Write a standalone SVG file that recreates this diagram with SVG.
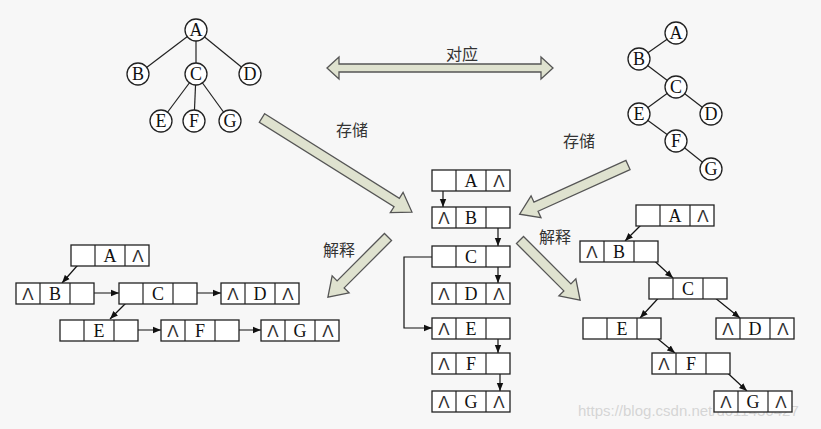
<svg xmlns="http://www.w3.org/2000/svg" xmlns:xlink="http://www.w3.org/1999/xlink" width="821" height="429" viewBox="0 0 821 429">
<style>
.c{fill:#fff;stroke:#222;stroke-width:1.3}
.t{font-family:"Liberation Serif",serif;font-size:18px;text-anchor:middle;fill:#111}
.n{font-family:"Liberation Sans",sans-serif;font-size:17px;text-anchor:middle;fill:#333}
.l{stroke:#222;stroke-width:1.2;fill:none}
.a{stroke:#111;stroke-width:1.2;fill:none;marker-end:url(#m)}
.b{fill:#dfe2cf;stroke:#555;stroke-width:1.3}
.cn{font-family:"Noto Sans CJK SC",sans-serif;font-size:16px;fill:#333;text-anchor:middle}
</style>
<defs>
<marker id="m" viewBox="0 0 10 10" refX="10" refY="5" markerWidth="8" markerHeight="8" orient="auto" markerUnits="userSpaceOnUse"><path d="M0,1 L10,5 L0,9 z" fill="#111"/></marker>
<g id="box"><rect class="c" x="0" y="0" width="78" height="21"/><line class="l" x1="24" y1="0" x2="24" y2="21"/><line class="l" x1="54" y1="0" x2="54" y2="21"/></g>
</defs>
<rect width="821" height="429" fill="#f7f7f7"/>
<text x="578" y="416" font-family="Liberation Sans,sans-serif" font-size="15" fill="#ccc" fill-opacity="0.8">https://blog.csdn.net/u011436427</text>
<g id="connectors">
<g class="l">
<line x1="196" y1="30" x2="138" y2="74"/><line x1="196" y1="30" x2="196" y2="74"/><line x1="196" y1="30" x2="250" y2="74"/>
<line x1="196" y1="74" x2="161" y2="121"/><line x1="196" y1="74" x2="194" y2="121"/><line x1="196" y1="74" x2="230" y2="121"/>
<line x1="676" y1="33" x2="639" y2="59"/><line x1="639" y1="59" x2="676" y2="87"/><line x1="676" y1="87" x2="639" y2="114"/><line x1="676" y1="87" x2="711" y2="114"/><line x1="639" y1="114" x2="676" y2="141"/><line x1="676" y1="141" x2="711" y2="169"/>
</g>
<line class="a" x1="443" y1="177" x2="443" y2="207"/>
<line class="a" x1="498" y1="216" x2="498" y2="246"/>
<line class="a" x1="498" y1="255" x2="498" y2="283"/>
<polyline class="a" points="445,257 404,257 404,328 432,328"/>
<line class="a" x1="498" y1="328" x2="498" y2="353"/>
<line class="a" x1="500" y1="364" x2="500" y2="391"/>
<line class="a" x1="84" y1="258" x2="62" y2="283"/>
<line class="a" x1="82" y1="293" x2="119" y2="293"/>
<line class="a" x1="185" y1="293" x2="221" y2="293"/>
<line class="a" x1="134" y1="295" x2="110" y2="319"/>
<line class="a" x1="128" y1="330" x2="161" y2="330"/>
<line class="a" x1="228" y1="330" x2="261" y2="330"/>
<line class="a" x1="648" y1="218" x2="625" y2="241"/>
<line class="a" x1="647" y1="254" x2="673" y2="278"/>
<line class="a" x1="664" y1="292" x2="640" y2="318"/>
<line class="a" x1="714" y1="297" x2="740" y2="318"/>
<line class="a" x1="647" y1="330" x2="675" y2="353"/>
<line class="a" x1="720" y1="366" x2="747" y2="391"/>
<polygon class="b" points="327,68 339,57 339,64 541,64 541,57 553,68 541,79 541,72 339,72 339,79"/>
<polygon class="b" transform="translate(262,118) rotate(32.1)" points="0,-5 159,-5 159,-12 177,0 159,12 159,5 0,5"/>
<polygon class="b" transform="translate(628,165) rotate(155.6)" points="0,-5 101,-5 101,-12 119,0 101,12 101,5 0,5"/>
<polygon class="b" transform="translate(388,237) rotate(135)" points="0,-5 67,-5 67,-12 85,0 67,12 67,5 0,5"/>
<polygon class="b" transform="translate(520,240) rotate(45)" points="0,-5 67,-5 67,-12 85,0 67,12 67,5 0,5"/>
</g>
<g id="labels">
<text class="cn" x="462" y="60">对应</text>
<text class="cn" x="352" y="136">存储</text>
<text class="cn" x="579" y="147">存储</text>
<text class="cn" x="339" y="256">解释</text>
<text class="cn" x="555" y="243">解释</text>
</g>
<g id="treeL">
<g id="tA"><circle class="c" cx="196" cy="30" r="11"/><text class="t" x="196" y="36">A</text></g>
<g id="tB"><circle class="c" cx="138" cy="74" r="11"/><text class="t" x="138" y="80">B</text></g>
<g id="tC"><circle class="c" cx="196" cy="74" r="11"/><text class="t" x="196" y="80">C</text></g>
<g id="tD"><circle class="c" cx="250" cy="74" r="11"/><text class="t" x="250" y="80">D</text></g>
<g id="tE"><circle class="c" cx="161" cy="121" r="11"/><text class="t" x="161" y="127">E</text></g>
<g id="tF"><circle class="c" cx="194" cy="121" r="11"/><text class="t" x="194" y="127">F</text></g>
<g id="tG"><circle class="c" cx="230" cy="121" r="11"/><text class="t" x="230" y="127">G</text></g>
</g>
<g id="treeR">
<g id="rA"><circle class="c" cx="676" cy="33" r="11"/><text class="t" x="676" y="39">A</text></g>
<g id="rB"><circle class="c" cx="639" cy="59" r="11"/><text class="t" x="639" y="65">B</text></g>
<g id="rC"><circle class="c" cx="676" cy="87" r="11"/><text class="t" x="676" y="93">C</text></g>
<g id="rE"><circle class="c" cx="639" cy="114" r="11"/><text class="t" x="639" y="120">E</text></g>
<g id="rD"><circle class="c" cx="711" cy="114" r="11"/><text class="t" x="711" y="120">D</text></g>
<g id="rF"><circle class="c" cx="676" cy="141" r="11"/><text class="t" x="676" y="147">F</text></g>
<g id="rG"><circle class="c" cx="711" cy="169" r="11"/><text class="t" x="711" y="175">G</text></g>
</g>
<g id="cA"><use href="#box" x="432" y="170"/><text class="t" x="471" y="187">A</text><text class="n" x="499" y="187">Λ</text></g>
<g id="cB"><use href="#box" x="432" y="207"/><text class="n" x="444" y="224">Λ</text><text class="t" x="471" y="224">B</text></g>
<g id="cC"><use href="#box" x="432" y="246"/><text class="t" x="471" y="263">C</text></g>
<g id="cD"><use href="#box" x="432" y="283"/><text class="n" x="444" y="300">Λ</text><text class="t" x="471" y="300">D</text><text class="n" x="499" y="300">Λ</text></g>
<g id="cE"><use href="#box" x="432" y="318"/><text class="n" x="444" y="335">Λ</text><text class="t" x="471" y="335">E</text></g>
<g id="cF"><use href="#box" x="432" y="353"/><text class="n" x="444" y="370">Λ</text><text class="t" x="471" y="370">F</text></g>
<g id="cG"><use href="#box" x="432" y="391"/><text class="n" x="444" y="408">Λ</text><text class="t" x="471" y="408">G</text><text class="n" x="499" y="408">Λ</text></g>
<g id="lA"><use href="#box" x="71" y="245"/><text class="t" x="110" y="262">A</text><text class="n" x="138" y="262">Λ</text></g>
<g id="lB"><use href="#box" x="16" y="283"/><text class="n" x="28" y="300">Λ</text><text class="t" x="55" y="300">B</text></g>
<g id="lC"><use href="#box" x="119" y="283"/><text class="t" x="158" y="300">C</text></g>
<g id="lD"><use href="#box" x="221" y="283"/><text class="n" x="233" y="300">Λ</text><text class="t" x="260" y="300">D</text><text class="n" x="288" y="300">Λ</text></g>
<g id="lE"><use href="#box" x="60" y="320"/><text class="t" x="99" y="337">E</text></g>
<g id="lF"><use href="#box" x="161" y="320"/><text class="n" x="173" y="337">Λ</text><text class="t" x="200" y="337">F</text></g>
<g id="lG"><use href="#box" x="261" y="320"/><text class="n" x="273" y="337">Λ</text><text class="t" x="300" y="337">G</text><text class="n" x="328" y="337">Λ</text></g>
<g id="qA"><use href="#box" x="636" y="205"/><text class="t" x="675" y="222">A</text><text class="n" x="703" y="222">Λ</text></g>
<g id="qB"><use href="#box" x="580" y="241"/><text class="n" x="592" y="258">Λ</text><text class="t" x="619" y="258">B</text></g>
<g id="qC"><use href="#box" x="649" y="278"/><text class="t" x="688" y="295">C</text></g>
<g id="qE"><use href="#box" x="583" y="318"/><text class="t" x="622" y="335">E</text></g>
<g id="qD"><use href="#box" x="716" y="318"/><text class="n" x="728" y="335">Λ</text><text class="t" x="755" y="335">D</text><text class="n" x="783" y="335">Λ</text></g>
<g id="qF"><use href="#box" x="652" y="353"/><text class="n" x="664" y="370">Λ</text><text class="t" x="691" y="370">F</text></g>
<g id="qG"><use href="#box" x="714" y="391"/><text class="n" x="726" y="408">Λ</text><text class="t" x="753" y="408">G</text><text class="n" x="781" y="408">Λ</text></g>
</svg>
